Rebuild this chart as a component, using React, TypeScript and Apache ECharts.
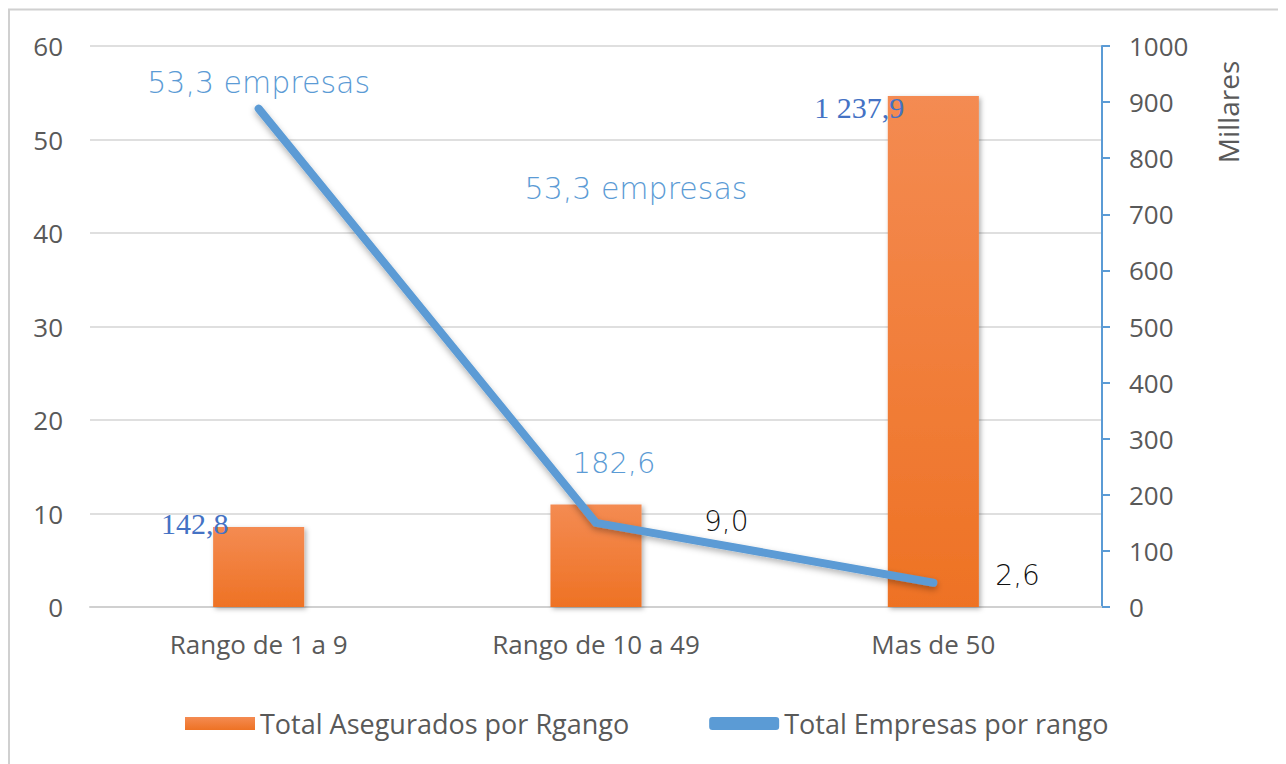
import React, { useEffect, useRef } from "react";
import * as echarts from "echarts";

const categories = ["Rango de 1 a 9", "Rango de 10 a 49", "Mas de 50"];
const asegurados = [142.8, 182.6, 911];
const aseguradosLabels = ["142,8", "182,6", "1 237,9"];
const empresas = [53.3, 9.0, 2.6];
const empresasLabels = ["53,3 empresas", "9,0", "2,6"];
const extraNote = "53,3 empresas";
const rightAxisName = "Millares";
const legendNames = ["Total Asegurados por Rgango", "Total Empresas por rango"];

const BLUE = "#5B9BD5";
const SERIF_BLUE = "#4472C4";
const GRAY = "#595959";
const GEO = "'DejaVu Sans', sans-serif";
const AX = "'Open Sans', 'Noto Sans', sans-serif";
const SERIF = "'Liberation Serif', serif";

const barLabelStyles = [
  { fontFamily: SERIF, fontSize: 30, color: SERIF_BLUE, offset: [-64, 17] },
  { fontFamily: GEO, fontWeight: 200, fontSize: 29, color: BLUE, offset: [18, -22] },
  { fontFamily: SERIF, fontSize: 30, color: SERIF_BLUE, offset: [-74, 32] },
];
const lineLabelStyles = [
  { position: "top", distance: 10, fontFamily: GEO, fontWeight: 200, fontSize: 30, color: BLUE, offset: [0, 0] },
  { position: "right", distance: 107, fontFamily: GEO, fontWeight: 200, fontSize: 28, color: "#111", offset: [0, -1] },
  { position: "right", distance: 61, fontFamily: GEO, fontWeight: 200, fontSize: 28, color: "#111", offset: [0, -7] },
];

export default function App() {
  const ref = useRef<HTMLDivElement>(null);
  useEffect(() => {
    if (!ref.current) return;
    const chart = echarts.init(ref.current, null, { renderer: "svg" });
    chart.setOption({
      animation: false,
      backgroundColor: "#fff",
      grid: { left: 82, right: 184, top: 38, bottom: 157 },
      legend: {
        left: 172,
        top: 697,
        itemWidth: 70,
        itemHeight: 13,
        itemGap: 80,
        textStyle: { fontFamily: AX, fontSize: 27, color: GRAY },
        data: [
          { name: legendNames[0], icon: "rect" },
          { name: legendNames[1], icon: "roundRect", itemStyle: { color: BLUE } },
        ],
      },
      xAxis: {
        type: "category",
        data: categories,
        axisLine: { lineStyle: { color: "#d0d0d0", width: 2 } },
        axisTick: { show: false },
        axisLabel: { fontFamily: AX, fontSize: 26, color: GRAY, margin: 24 },
      },
      yAxis: [
        {
          type: "value",
          min: 0,
          max: 60,
          interval: 10,
          axisLine: { show: false },
          axisTick: { show: false },
          axisLabel: { fontFamily: AX, fontSize: 26, color: GRAY, margin: 27 },
          splitLine: { lineStyle: { color: "#d4d4d4", width: 1.5 } },
        },
        {
          type: "value",
          min: 0,
          max: 1000,
          interval: 100,
          position: "right",
          axisLine: { show: true, lineStyle: { color: BLUE, width: 2 } },
          axisTick: { show: true, length: 8, lineStyle: { color: BLUE, width: 2 } },
          axisLabel: {
            fontFamily: AX,
            fontSize: 26,
            color: GRAY,
            margin: 27,
            formatter: (v: number) => String(v),
          },
          splitLine: { show: false },
        },
      ],
      series: [
        {
          name: legendNames[0],
          type: "bar",
          yAxisIndex: 1,
          barWidth: "27%",
          itemStyle: {
            color: new echarts.graphic.LinearGradient(0, 0, 0, 1, [
              { offset: 0, color: "#F48B52" },
              { offset: 1, color: "#EE7224" },
            ]),
            shadowColor: "rgba(0,0,0,0.3)",
            shadowBlur: 5,
            shadowOffsetX: 2,
            shadowOffsetY: 2,
          },
          data: asegurados.map((v, i) => ({
            value: v,
            label: {
              show: true,
              position: "top",
              formatter: aseguradosLabels[i],
              ...barLabelStyles[i],
            },
          })),
          z: 2,
        },
        {
          name: legendNames[1],
          type: "line",
          yAxisIndex: 0,
          symbol: "circle",
          symbolSize: 2,
          itemStyle: { color: BLUE },
          lineStyle: {
            color: BLUE,
            width: 8,
            cap: "round",
            join: "round",
            shadowColor: "rgba(0,0,0,0.3)",
            shadowBlur: 6,
            shadowOffsetY: 3,
          },
          data: empresas.map((v, i) => ({
            value: v,
            label: {
              show: true,
              formatter: empresasLabels[i],
              ...lineLabelStyles[i],
            },
          })),
          z: 3,
        },
      ],
      graphic: [
        {
          type: "rect",
          shape: { x: 1, y: 1.5, width: 1400, height: 900 },
          style: { fill: "none", stroke: "#d0d0d0", lineWidth: 2 },
          silent: true,
        },
        {
          type: "text",
          x: 628,
          y: 180,
          style: {
            text: extraNote,
            font: `200 30px ${GEO}`,
            fill: BLUE,
            textAlign: "center",
            textVerticalAlign: "middle",
          },
        },
        {
          type: "text",
          x: 1220,
          y: 104,
          rotation: Math.PI / 2,
          style: {
            text: rightAxisName,
            font: `28px ${AX}`,
            fill: GRAY,
            textAlign: "center",
            textVerticalAlign: "middle",
          },
        },
      ],
    });
    return () => chart.dispose();
  }, []);
  return <div ref={ref} style={{ width: 1278, height: 756 }} />;
}
